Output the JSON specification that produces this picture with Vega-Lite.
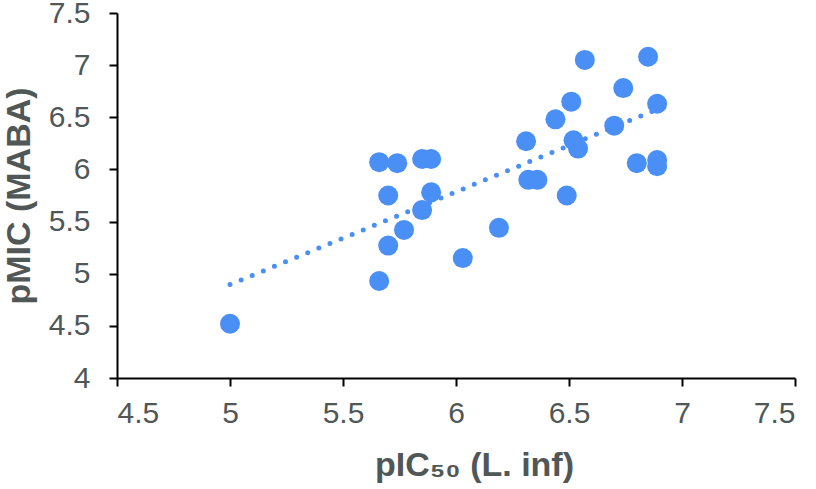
{
  "$schema": "https://vega.github.io/schema/vega-lite/v6.json",
  "width": 678,
  "height": 365,
  "autosize": {"type": "none"},
  "padding": {"left": 117, "top": 13, "right": 21, "bottom": 111},
  "config": {"view": {"stroke": null}, "font": "Liberation Sans"},
  "data": {
    "values": [
      {"x": 5.00, "y": 4.52},
      {"x": 5.66, "y": 4.93},
      {"x": 5.70, "y": 5.27},
      {"x": 5.77, "y": 5.42},
      {"x": 5.85, "y": 5.61},
      {"x": 5.89, "y": 5.78},
      {"x": 5.70, "y": 5.75},
      {"x": 5.66, "y": 6.07},
      {"x": 5.74, "y": 6.06},
      {"x": 5.85, "y": 6.10},
      {"x": 5.89, "y": 6.10},
      {"x": 6.03, "y": 5.15},
      {"x": 6.19, "y": 5.44},
      {"x": 6.49, "y": 5.75},
      {"x": 6.32, "y": 5.90},
      {"x": 6.36, "y": 5.90},
      {"x": 6.31, "y": 6.27},
      {"x": 6.44, "y": 6.48},
      {"x": 6.51, "y": 6.65},
      {"x": 6.52, "y": 6.28},
      {"x": 6.54, "y": 6.20},
      {"x": 6.57, "y": 7.05},
      {"x": 6.70, "y": 6.42},
      {"x": 6.74, "y": 6.78},
      {"x": 6.85, "y": 7.08},
      {"x": 6.89, "y": 6.63},
      {"x": 6.80, "y": 6.06},
      {"x": 6.89, "y": 6.09},
      {"x": 6.89, "y": 6.03}
    ]
  },
  "layer": [
    {
      "transform": [{"regression": "y", "on": "x"}],
      "mark": {"type": "line", "color": "#4a8ff5", "strokeWidth": 5, "strokeDash": [0, 12], "strokeCap": "round"},
      "encoding": {
        "x": {"field": "x", "type": "quantitative", "scale": {"domain": [4.5, 7.5], "nice": false, "zero": false}},
        "y": {"field": "y", "type": "quantitative", "scale": {"domain": [4, 7.5], "nice": false, "zero": false}}
      }
    },
    {
      "mark": {"type": "circle", "color": "#4a8ff5", "opacity": 1, "size": 400},
      "encoding": {
        "x": {
          "field": "x", "type": "quantitative",
          "scale": {"domain": [4.5, 7.5], "nice": false, "zero": false},
          "axis": {
            "title": "pIC₅₀ (L. inf)",
            "values": [4.5, 5, 5.5, 6, 6.5, 7, 7.5],
            "format": "~g",
            "grid": false,
            "domainColor": "#000000", "domainWidth": 2,
            "tickColor": "#000000", "tickWidth": 2, "tickSize": 8,
            "labelFontSize": 30, "labelColor": "#4f5757", "labelPadding": 12,
            "titleFontSize": 34, "titleFontWeight": "bold", "titleColor": "#4f5757",
            "titlePadding": 20, "titleX": 357
          }
        },
        "y": {
          "field": "y", "type": "quantitative",
          "scale": {"domain": [4, 7.5], "nice": false, "zero": false},
          "axis": {
            "title": "pMIC (MABA)",
            "values": [4, 4.5, 5, 5.5, 6, 6.5, 7, 7.5],
            "format": "~g",
            "grid": false,
            "domainColor": "#000000", "domainWidth": 2,
            "tickColor": "#000000", "tickWidth": 2, "tickSize": 8,
            "labelFontSize": 30, "labelColor": "#4f5757", "labelPadding": 19,
            "titleFontSize": 34, "titleFontWeight": "bold", "titleColor": "#4f5757",
            "titlePadding": 12
          }
        }
      }
    }
  ]
}
